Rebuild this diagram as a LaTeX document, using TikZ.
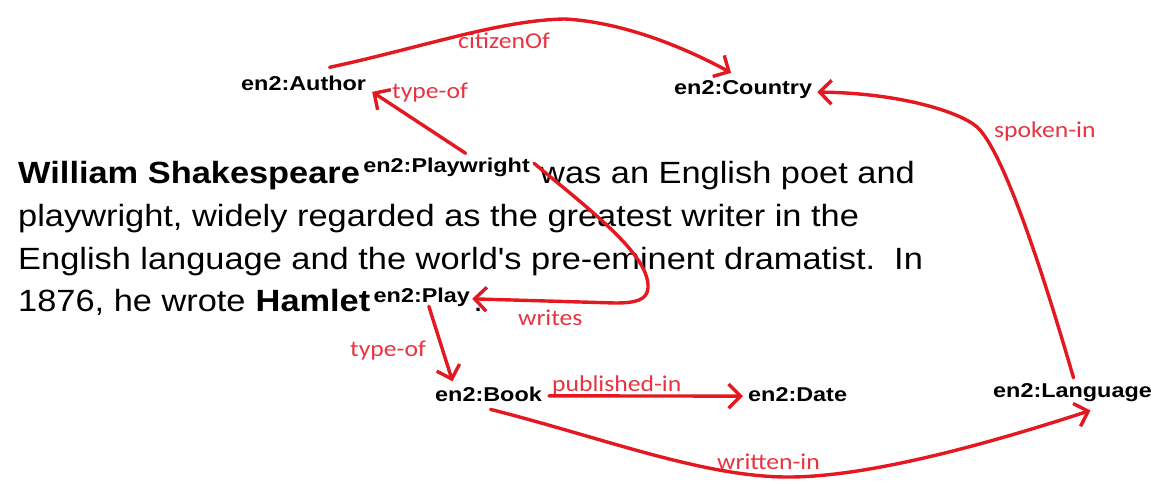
\documentclass[tikz,border=0pt]{standalone}
\usepackage{fontspec}
\setmainfont{Liberation Sans}[Ligatures=TeXOff]
\newfontfamily\cali{Carlito}
\usetikzlibrary{arrows.meta}
\definecolor{edgered}{RGB}{228,24,32}
\definecolor{labred}{RGB}{232,52,64}
\newcommand{\msc}[1]{\scalebox{1.12}[1]{#1}}
\newcommand{\lsc}[1]{\scalebox{1.17}[1]{#1}}
\newcommand{\rsc}[1]{\scalebox{1.13}[1]{#1}}
\tikzset{
  maintext/.style={font=\fontsize{30.7}{36}\selectfont, inner sep=0pt, anchor=base west},
  concept/.style={font=\fontsize{20}{24}\selectfont\bfseries, inner sep=0pt, anchor=base west},
  rel/.style={font=\fontsize{22.7}{27}\selectfont\cali, text=labred, inner sep=0pt, anchor=base west},
  link/.style={draw=edgered, line width=3.4pt, line cap=round, line join=round,
    -{Straight Barb[length=12pt,width=24pt]}},
}
\begin{document}
\begin{tikzpicture}[x=1pt,y=-1pt]
\fill[white] (0,0) rectangle (1154,484);
\useasboundingbox (0,0) rectangle (1154,484);

% concept nodes
\node[concept] (Au) at (241,91) {\lsc{en2:Author}};
\node[concept] (Co) at (674,95) {\lsc{en2:Country}};
\node[concept] (Bk) at (435,401) {\lsc{en2:Book}};
\node[concept] (Dt) at (748,401) {\lsc{en2:Date}};
\node[concept] (La) at (993,397) {\lsc{en2:Language}};

% paragraph
\node[maintext] (WS) at (18,183) {\msc{\textbf{William Shakespeare}}};
\node[concept] (PW) at ([shift={(3,-11)}]WS.base east) {\lsc{en2:Playwright}};
\node[maintext] (L1) at ([shift={(10,11)}]PW.base east) {\msc{was an English poet and}};
\node[maintext] (L2) at (18,226) {\msc{playwright, widely regarded as the greatest writer in the}};
\node[maintext] (L3) at (18,269) {\msc{English language and the world's pre-eminent dramatist.\ \ In}};
\node[maintext] (L4) at (18,311) {\msc{1876, he wrote}};
\node[maintext] (HM) at ([shift={(9.6,0)}]L4.base east) {\msc{\textbf{Hamlet}}};
\node[concept] (PL) at ([shift={(3,-9)}]HM.base east) {\lsc{en2:Play}};
\node[maintext] (DT) at ([shift={(3,9)}]PL.base east) {\msc{.}};

% relation labels
\node[rel] (lcit) at (458,49) {\rsc{citizenOf}};
\node[rel] (ltyA) at (392,99) {\rsc{type-of}};
\node[rel] (lwri) at (518,325) {\rsc{writes}};
\node[rel] (ltyB) at (350,356) {\rsc{type-of}};
\node[rel] (lpub) at (552,391) {\rsc{published-in}};
\node[rel] (lwin) at (717,469) {\rsc{written-in}};
\node[rel] (lspo) at (994,138) {\rsc{spoken-in}};

% connectors
\draw[link] ([shift={(26,-9)}]Au.north) .. controls (420,48) and (500,20) .. (565,19)
  .. controls (620,22) and (680,45) .. ([shift={(-12,-8)}]Co.north);
\draw[link] ([shift={(19,-4)}]PW.north) -- ([shift={(6,8)}]Au.east);
\draw[link] ([shift={(4,6)}]PW.north east) .. controls (590,210) and (650,255) .. (648,288)
  .. controls (647,300) and (636,303) .. (615,303) -- ([shift={(2,2)}]PL.east);
\draw[link] ([shift={(7,0)}]PL.south) -- ([shift={(-36,-5)}]Bk.north);
\draw[link] ([shift={(7,2)}]Bk.east) -- ([shift={(-5,2)}]Dt.west);
\draw[link] ([shift={(2,8)}]Bk.south) .. controls (600,437) and (700,476) .. (785,477)
  .. controls (870,478) and (1000,440) .. ([shift={(18,9)}]La.south);
\draw[link] ([shift={(1,-5)}]La.north) .. controls (1048,290) and (1005,152) .. (977,127)
  .. controls (960,112) and (900,93) .. ([shift={(5,2)}]Co.east);
\end{tikzpicture}
\end{document}
